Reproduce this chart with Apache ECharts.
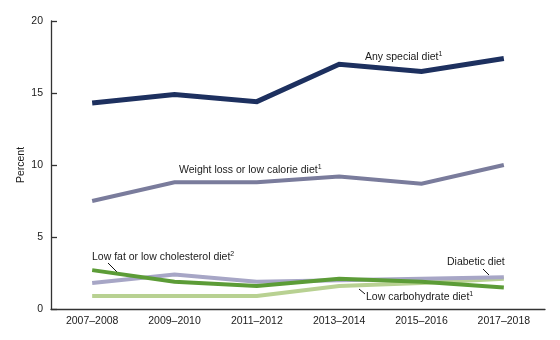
<!DOCTYPE html>
<html>
<head>
<meta charset="utf-8">
<script src="https://cdn.jsdelivr.net/npm/echarts@6/dist/echarts.min.js"></script>
<style>
  html, body { margin: 0; padding: 0; background: #fff; }
  #chart { width: 560px; height: 340px; }
</style>
</head>
<body>
<div id="chart"></div>
<script>
// Survey periods
const periods = ['2007–2008', '2009–2010', '2011–2012', '2013–2014', '2015–2016', '2017–2018'];

// Percent of adults on each diet
const anySpecial = [14.3, 14.9, 14.4, 17.0, 16.5, 17.4];
const weightLoss = [7.5, 8.8, 8.8, 9.2, 8.7, 10.0];
const lowFat = [2.7, 1.9, 1.6, 2.1, 1.9, 1.5];
const diabetic = [1.8, 2.4, 1.9, 2.0, 2.1, 2.2];
const lowCarb = [0.9, 0.9, 0.9, 1.6, 1.8, 2.1];

// Y axis ticks
const yTicks = [0, 5, 10, 15, 20];

const FONT = 'Liberation Sans, Arial, sans-serif';
const TXT = '#1a1a1a';

const chart = echarts.init(document.getElementById('chart'));

function lineSeries(name, data, color, width, z) {
  return {
    name, type: 'line', data, z,
    symbol: 'none', smooth: false,
    lineStyle: { color, width, cap: 'butt', join: 'miter' },
    emphasis: { disabled: true },
    animation: false
  };
}

function label(x, y, parts) {
  return {
    type: 'text', left: x, top: y, silent: true,
    style: {
      rich: {
        t: { fontSize: 10.5, fontFamily: FONT, fill: TXT },
        s: { fontSize: 7, fontFamily: FONT, fill: TXT, verticalAlign: 'top', padding: [0, 0, 5, 0] }
      },
      text: parts
    }
  };
}

function leader(x1, y1, x2, y2) {
  return {
    type: 'line', silent: true,
    shape: { x1, y1, x2, y2 },
    style: { stroke: '#111', lineWidth: 1 }
  };
}

chart.setOption({
  animation: false,
  grid: { left: 51, right: 15, top: 21, bottom: 31 },
  xAxis: {
    type: 'category',
    data: periods,
    boundaryGap: true,
    axisLine: { lineStyle: { color: '#333', width: 1.3 } },
    axisTick: { inside: true, alignWithLabel: true, length: 6, lineStyle: { color: '#333', width: 1.3 } },
    axisLabel: { color: TXT, fontSize: 10.5, fontFamily: FONT, margin: 7 },
    splitLine: { show: false }
  },
  yAxis: {
    type: 'value',
    min: yTicks[0], max: yTicks[yTicks.length - 1], interval: 5,
    name: 'Percent',
    nameLocation: 'middle',
    nameGap: 24,
    nameRotate: 90,
    nameMoveOverlap: false,
    nameTextStyle: { color: TXT, fontSize: 10.5, fontFamily: FONT },
    axisLine: { show: true, lineStyle: { color: '#333', width: 1.3 } },
    axisTick: { show: true, inside: true, length: 6, lineStyle: { color: '#333', width: 1.3 } },
    axisLabel: { color: TXT, fontSize: 10.5, fontFamily: FONT, margin: 8 },
    splitLine: { show: false }
  },
  series: [
    lineSeries('Low carbohydrate diet', lowCarb, '#b8d192', 4, 2),
    lineSeries('Diabetic diet', diabetic, '#a7a6c6', 4, 3),
    lineSeries('Low fat or low cholesterol diet', lowFat, '#5c9c37', 4, 4),
    lineSeries('Weight loss or low calorie diet', weightLoss, '#7a7c9c', 4, 5),
    lineSeries('Any special diet', anySpecial, '#1d305f', 5, 6)
  ],
  graphic: [
    label(365, 51, '{t|Any special diet}{s|1}'),
    label(179, 164, '{t|Weight loss or low calorie diet}{s|1}'),
    label(92, 251, '{t|Low fat or low cholesterol diet}{s|2}'),
    label(447, 257, '{t|Diabetic diet}'),
    label(366, 291, '{t|Low carbohydrate diet}{s|1}'),
    leader(108, 263, 117, 272),
    leader(483, 269, 489, 275),
    leader(359, 289, 365, 294)
  ]
});
</script>
</body>
</html>
